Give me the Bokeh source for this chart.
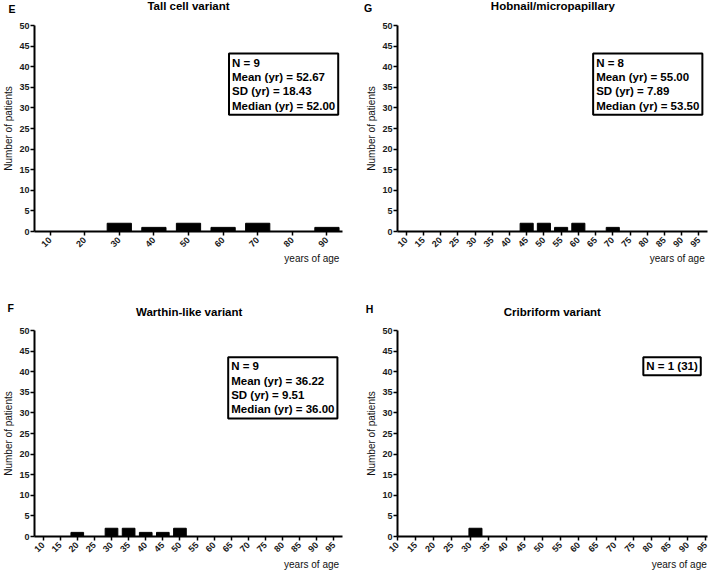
import math
from bokeh.plotting import figure
from bokeh.models import Range1d, FixedTicker, Label
from bokeh.layouts import gridplot
from bokeh.embed import file_html
from bokeh.resources import INLINE

# ---------------- data ----------------
y_ticks = [0, 5, 10, 15, 20, 25, 30, 35, 40, 45, 50]

ten_year_bins = [10, 20, 30, 40, 50, 60, 70, 80, 90]
five_year_bins = [10, 15, 20, 25, 30, 35, 40, 45, 50, 55, 60, 65, 70, 75, 80, 85, 90, 95]

tall_counts = [0, 0, 2, 1, 2, 1, 2, 0, 1]
tall_stats = ["N = 9", "Mean (yr) = 52.67", "SD (yr) = 18.43", "Median (yr) = 52.00"]

hobnail_counts = [0, 0, 0, 0, 0, 0, 0, 2, 2, 1, 2, 0, 1, 0, 0, 0, 0, 0]
hobnail_stats = ["N = 8", "Mean (yr) = 55.00", "SD (yr) = 7.89", "Median (yr) = 53.50"]

warthin_counts = [0, 0, 1, 0, 2, 2, 1, 1, 2, 0, 0, 0, 0, 0, 0, 0, 0, 0]
warthin_stats = ["N = 9", "Mean (yr) = 36.22", "SD (yr) = 9.51", "Median (yr) = 36.00"]

cribriform_bins = [31.5]
cribriform_counts = [2]
cribriform_stats = ["N = 1 (31)"]

FONT = "Liberation Sans"


def panel(letter, title, bins, counts, ticks, xr, bar_w, stats, stats_xy,
          letter_xy, letter_side, title_xy, xlabel_xy, borders):
    left, right, top, bottom = borders
    p = figure(width=354, height=287, x_range=Range1d(*xr), y_range=Range1d(0, 50),
               output_backend="svg", toolbar_location=None,
               min_border_left=left, min_border_right=right,
               min_border_top=top, min_border_bottom=bottom)
    p.outline_line_color = None
    p.xgrid.visible = False
    p.ygrid.visible = False
    p.background_fill_color = "white"
    p.border_fill_color = "white"
    p.title.text = ""
    p.title.visible = False

    p.vbar(x=bins, top=counts, width=bar_w, bottom=0,
           fill_color="black", line_color="black", line_width=1)

    for ax in (p.xaxis, p.yaxis):
        ax.axis_line_width = 2
        ax.axis_line_color = "black"
        ax.major_tick_line_width = 1.5
        ax.major_tick_line_color = "black"
        ax.major_tick_out = 4
        ax.major_tick_in = 0
        ax.minor_tick_line_color = None
        ax.major_label_text_font = FONT
        ax.major_label_text_font_size = "9px"
        ax.major_label_text_font_style = "bold"
        ax.major_label_text_color = "#1a1a1a"

    p.xaxis.ticker = FixedTicker(ticks=ticks)
    p.xaxis.major_label_orientation = math.pi / 4
    p.xaxis.major_label_standoff = 3

    p.yaxis.ticker = FixedTicker(ticks=y_ticks)
    p.yaxis.major_label_standoff = 1
    p.yaxis.axis_label = "Number of patients"
    p.yaxis.axis_label_text_font = FONT
    p.yaxis.axis_label_text_font_size = "10px"
    p.yaxis.axis_label_text_font_style = "normal"
    p.yaxis.axis_label_text_color = "#111111"
    p.yaxis.axis_label_standoff = 2

    # chart title
    p.add_layout(Label(x=title_xy[0], y=title_xy[1], text=title, text_font=FONT,
                       text_font_size="11.5px", text_font_style="bold",
                       text_color="black", text_align="center",
                       text_baseline="middle"), "above")

    # x axis caption, right aligned under the axis
    p.add_layout(Label(x=xlabel_xy[0], y=xlabel_xy[1], text="years of age",
                       text_font=FONT, text_font_size="10px", text_font_style="normal",
                       text_color="#111111", text_align="right",
                       text_baseline="middle"), "below")

    # panel letter
    p.add_layout(Label(x=letter_xy[0], y=letter_xy[1], text=letter, text_font=FONT,
                       text_font_size="10.5px", text_font_style="bold",
                       text_color="black", text_align="center", text_baseline="middle"),
                 letter_side)

    p.add_layout(Label(x=stats_xy[0], y=stats_xy[1], text="\n".join(stats),
                       text_font=FONT, text_font_size="11.5px", text_font_style="bold",
                       text_color="black", text_align="left", text_baseline="top",
                       text_line_height=1.2,
                       border_line_color="black", border_line_width=2,
                       background_fill_color="white", padding=3))
    return p


pE = panel("E", "Tall cell variant", ten_year_bins, tall_counts, ten_year_bins,
           (5.5, 94.5), 7.0, tall_stats, (61.7, 43.2), (-1.0, 54.1), "right",
           (50.0, 54.75), (93.6, -6.5), (33, 11, 25, 56))
pG = panel("G", "Hobnail/micropapillary", five_year_bins, hobnail_counts, five_year_bins,
           (7.5, 97.5), 3.8, hobnail_stats, (64.3, 43.2), (-1.07, 54.25), "left",
           (52.6, 54.75), (96.7, -6.5), (43, 1, 25, 56))
pF = panel("F", "Warthin-like variant", five_year_bins, warthin_counts, five_year_bins,
           (7.5, 97.5), 3.7, warthin_stats, (64.1, 43.5), (0.53, 55.5), "above",
           (52.7, 54.6), (96.5, -6.8), (32, 12, 43, 38))
pH = panel("H", "Cribriform variant", cribriform_bins, cribriform_counts, five_year_bins,
           (10, 95.5), 3.6, cribriform_stats, (77.8, 43.5), (2.28, 55.33), "above",
           (52.7, 54.6), (95.3, -6.8), (43, 1, 43, 38))

grid = gridplot([[pE, pG], [pF, pH]], toolbar_location=None)

open("out.html", "w").write(file_html(grid, INLINE))
